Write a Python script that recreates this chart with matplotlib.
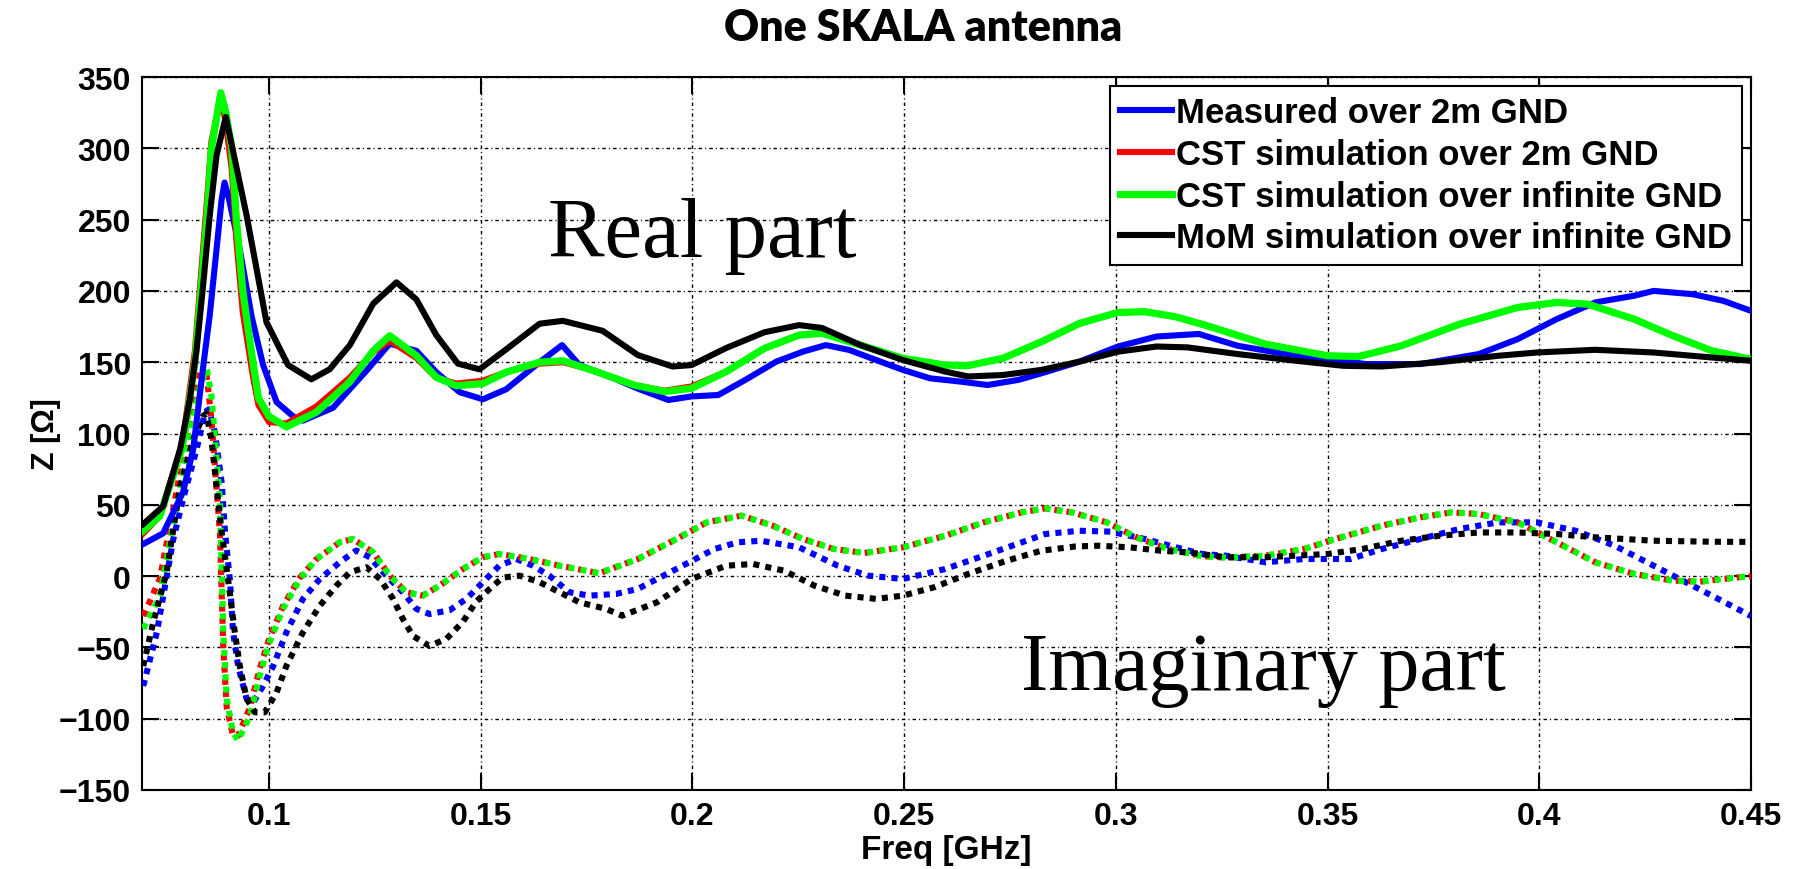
import matplotlib
matplotlib.use("Agg")
import matplotlib.pyplot as plt

# ---------------- data ----------------
freq_blue_re = [0.0703, 0.075, 0.0758, 0.0797, 0.0821, 0.0845, 0.086, 0.0876, 0.0888, 0.0895, 0.0905,
                0.0931, 0.0959, 0.0986, 0.1018, 0.1057, 0.108, 0.1151, 0.123, 0.1285, 0.1348, 0.1395,
                0.145, 0.1505, 0.156, 0.1639, 0.1692, 0.1733, 0.1796, 0.1875, 0.1943, 0.1998, 0.2061,
                0.2125, 0.2198, 0.2261, 0.2315, 0.237, 0.2434, 0.2497, 0.2561, 0.2633, 0.2697, 0.277,
                0.2824, 0.2914, 0.3005, 0.3096, 0.3196, 0.3288, 0.338, 0.35, 0.3591, 0.3719, 0.3857,
                0.3949, 0.4041, 0.4132, 0.4224, 0.427, 0.4362, 0.4435, 0.45]
blue_re = [22.5, 30, 35, 59, 89, 148, 183, 229, 264, 276, 265,
           229, 182, 148, 122, 112, 109, 118, 144, 163, 158, 143,
           129, 124, 131, 150, 162, 148, 141, 131, 123.5, 126, 127,
           137.6, 150.4, 157.4, 162, 158.6, 151.5, 144.6, 138.7, 136.4, 134, 137.6,
           142.2, 150.4, 161, 168, 169.8, 161.5, 156.8, 152.2, 148.7, 148.7, 155.7,
           166.2, 180.2, 191.9, 196.6, 200, 197.7, 193, 186]

freq_green_re = [0.0703, 0.0742, 0.0794, 0.0801, 0.0825, 0.0839, 0.0853, 0.0864, 0.0886, 0.0898,
                 0.0912, 0.0923, 0.0938, 0.0962, 0.0975, 0.1, 0.1041, 0.1112, 0.119, 0.1246, 0.1285,
                 0.1348, 0.1395, 0.1442, 0.1505, 0.156, 0.1639, 0.1694, 0.1757, 0.1862, 0.1934,
                 0.1998, 0.208, 0.217, 0.2252, 0.2306, 0.2397, 0.2497, 0.2597, 0.2651, 0.2733,
                 0.2824, 0.2914, 0.3005, 0.3069, 0.3142, 0.3215, 0.3353, 0.35, 0.3573, 0.3674,
                 0.3812, 0.3949, 0.4041, 0.4114, 0.4224, 0.4316, 0.4408, 0.45]
green_re = [32, 42, 89, 100, 150, 200, 250, 300, 339, 325,
            300, 250, 200, 150, 125, 112, 104.6, 115, 136, 158, 168.6,
            154.6, 139.4, 133.5, 135, 143, 150, 151, 145, 134, 129.4,
            131.7, 143.4, 159.7, 169, 170.3, 162, 152.7, 148, 147.6, 152.7,
            164.3, 177.2, 184.9, 185.4, 181.8, 175.6, 162.7, 154.5, 154, 161.5,
            176.7, 188.4, 191.9, 190.7, 180.2, 168.5, 158, 152]
red_re = [30, 42, 92, 105, 158, 210, 262, 305, 335, 318,
          285, 235, 185, 140, 120, 108, 107, 119, 139, 157, 165,
          153, 139, 135, 137, 143, 149, 150, 145, 134, 130,
          133, 143.4, 159.7, 169, 170.3, 162, 152.7, 148, 147.6, 152.7,
          164.3, 177.2, 184.9, 185.4, 181.8, 175.6, 162.7, 154.5, 154, 161.5,
          176.7, 188.4, 191.9, 190.7, 180.2, 168.5, 158, 152]

freq_black_re = [0.0703, 0.075, 0.079, 0.0813, 0.0829, 0.0845, 0.086, 0.0876, 0.0898, 0.0947,
                 0.0994, 0.1045, 0.11, 0.1143, 0.1191, 0.1246, 0.1301, 0.1348, 0.1395, 0.1446,
                 0.1497, 0.156, 0.1639, 0.1694, 0.1788, 0.1871, 0.1953, 0.1998, 0.208, 0.217,
                 0.2252, 0.2306, 0.2397, 0.2497, 0.2597, 0.2651, 0.2733, 0.2824, 0.2914, 0.3005,
                 0.3096, 0.3169, 0.3288, 0.3426, 0.3536, 0.3628, 0.3765, 0.3903, 0.3994, 0.4132,
                 0.427, 0.4408, 0.45]
black_re = [36.5, 49, 89, 124, 159, 206, 253, 295, 322, 253,
            178, 148, 138, 145, 162, 191, 206, 194, 169, 149,
            145, 159, 177, 179, 172, 155, 147, 148, 160, 171,
            176, 174, 162, 151.5, 143.4, 140, 141, 144.6, 150.4, 157.4,
            161, 160.4, 155.7, 151, 147.5, 147, 150, 154.5, 156.8, 158.7,
            156.8, 153.3, 151]

freq_green_im = [0.0703, 0.0742, 0.0782, 0.0813, 0.0837, 0.0853, 0.0864, 0.0884, 0.0888, 0.0892,
                 0.09, 0.0915, 0.0927, 0.0955, 0.0978, 0.0998, 0.1033, 0.1073, 0.1112, 0.1167,
                 0.1198, 0.1246, 0.1285, 0.1324, 0.1363, 0.1403, 0.1458, 0.1505, 0.1544, 0.1615,
                 0.1686, 0.178, 0.1871, 0.1962, 0.2034, 0.2116, 0.2189, 0.2261, 0.2334, 0.2406,
                 0.2497, 0.2597, 0.2688, 0.2778, 0.2833, 0.2896, 0.2978, 0.305, 0.3123, 0.3203,
                 0.326, 0.3353, 0.3445, 0.3518, 0.3628, 0.3719, 0.3793, 0.3857, 0.3949, 0.4041,
                 0.4132, 0.4224, 0.4316, 0.438, 0.4472, 0.45]
green_im = [-37, -14, 49, 96, 133.5, 145, 126.5, 54, 7, -39,
            -86, -109.5, -115.4, -98, -70, -49, -23, -2, 12, 23.7,
            26, 16.7, 0.3, -11.3, -13.7, -6.7, 5, 13.2, 15.5, 12,
            7.3, 2, 12, 26, 37.7, 42.4, 35.4, 26, 19, 16.2,
            20.2, 28.3, 37.7, 44.7, 47.5, 44.7, 37.7, 27, 19, 14,
            13, 14.3, 19, 26, 35.4, 41.2, 44.7, 43.5, 37.7, 23.7,
            9.7, 1.5, -3.2, -3.9, -0.8, 0]
red_im = [-28, -2, 60, 108, 143, 140, 110, 30, -10, -50,
          -92, -112, -112, -92, -65, -46, -21, -1, 12, 23.7,
          26, 16.7, 0.3, -11.3, -13.7, -6.7, 5, 13.2, 15.5, 12,
          7.3, 2, 12, 26, 37.7, 42.4, 35.4, 26, 19, 16.2,
          20.2, 28.3, 37.7, 44.7, 47.5, 44.7, 37.7, 27, 19, 14,
          13, 14.3, 19, 26, 35.4, 41.2, 44.7, 43.5, 37.7, 23.7,
          9.7, 1.5, -3.2, -3.9, -0.8, 0]

freq_blue_im = [0.0703, 0.0735, 0.0774, 0.0797, 0.0829, 0.0849, 0.0858, 0.0872, 0.0888, 0.0896,
                0.0908, 0.0915, 0.0927, 0.0947, 0.0963, 0.0986, 0.101, 0.1041, 0.108, 0.112,
                0.1167, 0.1206, 0.1238, 0.1277, 0.1316, 0.1348, 0.1379, 0.1426, 0.1466, 0.1505,
                0.1544, 0.1584, 0.1623, 0.1662, 0.1709, 0.1757, 0.182, 0.1871, 0.1962, 0.2052,
                0.2107, 0.2161, 0.2252, 0.2343, 0.2415, 0.2497, 0.2597, 0.2688, 0.2778, 0.2833,
                0.2914, 0.2987, 0.3069, 0.3142, 0.3203, 0.326, 0.3353, 0.3445, 0.3554, 0.3628,
                0.3719, 0.381, 0.3903, 0.3994, 0.4086, 0.4178, 0.427, 0.4362, 0.4453, 0.45]
blue_im = [-77, -39.5, 26, 54, 89, 115, 117, 101, 66, 31,
           -4, -39, -63, -86, -88.5, -77, -63, -39.5, -16, -2,
           9.7, 18, 13.2, 0.3, -11.3, -23, -26.6, -24, -16, -4.3,
           7.3, 12, 7.3, 0.3, -11.3, -13.7, -12.5, -9, 5, 19,
           23.7, 24.8, 20.2, 7.3, 0.3, -2, 5, 14.3, 23.7, 29.5,
           31.8, 31.2, 26, 20.2, 15.5, 14.3, 9.7, 12, 12, 19,
           26, 33, 37.7, 37.7, 31.8, 21.3, 7.3, -6.7, -20.7, -28]

freq_black_im = [0.0703, 0.0727, 0.0758, 0.079, 0.0821, 0.0845, 0.0852, 0.0864, 0.0876, 0.0888,
                 0.0904, 0.0919, 0.0931, 0.0947, 0.0967, 0.099, 0.1018, 0.1041, 0.108, 0.112,
                 0.1159, 0.1191, 0.123, 0.1262, 0.1293, 0.1316, 0.134, 0.1379, 0.1419, 0.1458,
                 0.1489, 0.1521, 0.1552, 0.1592, 0.1639, 0.1686, 0.1733, 0.1796, 0.1834, 0.1916,
                 0.1998, 0.208, 0.2143, 0.2216, 0.2288, 0.2361, 0.2434, 0.2497, 0.257, 0.2651,
                 0.2742, 0.2824, 0.2905, 0.296, 0.3032, 0.3105, 0.3169, 0.326, 0.3353, 0.35,
                 0.3582, 0.3674, 0.3765, 0.3857, 0.3949, 0.4041, 0.4132, 0.427, 0.4408, 0.45]
black_im = [-63, -32, 2.6, 63, 96, 112.5, 114, 96, 63, 31,
            -4, -39, -63, -86, -95.5, -95.5, -81.5, -63, -39.5, -20.7,
            -6.7, 2.7, 6.2, -2, -16, -30, -42, -49, -44, -32,
            -18, -9, -1, 0.3, -4.3, -11.3, -18.4, -23, -27.8, -18.4,
            -2, 7.3, 8.5, 3.8, -6.7, -13.7, -16, -13.7, -7.9, 1.5,
            10.8, 17.8, 20.8, 21.3, 20.2, 17.8, 16.7, 13.2, 13.2, 15.5,
            19, 24.8, 28.3, 30.6, 30.6, 29.5, 27.2, 24.8, 24.1, 24]

legend_labels = ["Measured over 2m GND", "CST simulation over 2m GND",
                 "CST simulation over infinite GND", "MoM simulation over infinite GND"]
xtick_vals = [0.1, 0.15, 0.2, 0.25, 0.3, 0.35, 0.4, 0.45]
xtick_labels = ["0.1", "0.15", "0.2", "0.25", "0.3", "0.35", "0.4", "0.45"]
ytick_vals = [-150, -100, -50, 0, 50, 100, 150, 200, 250, 300, 350]

# ---------------- figure ----------------
W, H = 1803, 870
fig = plt.figure(figsize=(W / 100, H / 100), dpi=100)
ax = fig.add_axes([142 / W, 1 - 791 / H, (1751 - 142) / W, (791 - 78) / H])

lw = 4.4
dot = (0, (1.0, 1.0))
cols = {"b": "#0000ff", "r": "#ff0000", "g": "#00ff00", "k": "#000000"}

# imaginary (dotted)
ax.plot(freq_blue_im, blue_im, color=cols["b"], lw=lw, ls=dot, zorder=3)
ax.plot(freq_green_im, red_im, color=cols["r"], lw=lw, ls=dot, zorder=3)
ax.plot(freq_green_im, green_im, color=cols["g"], lw=lw, ls=dot, zorder=3)
ax.plot(freq_black_im, black_im, color=cols["k"], lw=lw, ls=dot, zorder=3)

# real (solid)
h1, = ax.plot(freq_blue_re, blue_re, color=cols["b"], lw=lw, zorder=4, solid_joinstyle="round")
h2, = ax.plot(freq_green_re, red_re, color=cols["r"], lw=lw, zorder=4, solid_joinstyle="round")
h3, = ax.plot(freq_green_re, green_re, color=cols["g"], lw=lw + 0.8, zorder=4, solid_joinstyle="round")
h4, = ax.plot(freq_black_re, black_re, color=cols["k"], lw=lw, zorder=5, solid_joinstyle="round")

ax.set_xlim(0.07, 0.45)
ax.set_ylim(-150, 350)
ax.set_xticks(xtick_vals)
ax.set_xticklabels(xtick_labels)
ax.set_yticks(ytick_vals)

for lab in ax.get_xticklabels() + ax.get_yticklabels():
    lab.set_fontfamily("Liberation Sans")
    lab.set_fontweight("bold")
    lab.set_fontsize(23)

ax.tick_params(direction="in", top=True, right=True, length=12, width=1.5, pad=8)
ax.grid(True, color="black", lw=1.0, ls=(0, (2.5, 2.2, 0.8, 2.2)), zorder=1)
for s in ax.spines.values():
    s.set_linewidth(1.5)

ax.set_xlabel("Freq [GHz]", fontfamily="Liberation Sans", fontweight="bold", fontsize=24, labelpad=2)
ax.set_ylabel("Z [\u03a9]", fontfamily="Liberation Sans", fontweight="bold", fontsize=22, labelpad=-2)

ax.text(0.2024, 224.5, "Real part", family="Liberation Serif", fontsize=61, ha="center", va="baseline", zorder=6)
ax.text(0.3349, -79, "Imaginary part", family="Liberation Serif", fontsize=59, ha="center", va="baseline", zorder=6)

leg = ax.legend([h1, h2, h3, h4], legend_labels, loc="upper right",
                bbox_to_anchor=((1742 - 142) / 1609, 1 - (87 - 78) / 713),
                borderaxespad=0, fancybox=False, framealpha=1, edgecolor="black",
                handlelength=1.5, handletextpad=0.1, labelspacing=0.25, borderpad=0.3,
                prop=dict(family="Liberation Sans", weight="bold", size=25))
leg.get_frame().set_linewidth(1.5)
leg.set_zorder(10)

fig.text(923 / W, 1 - 41 / H, "One SKALA antenna", family="Lato", weight="heavy", fontsize=31,
         ha="center", va="baseline")

fig.savefig("out.png", dpi=100)
